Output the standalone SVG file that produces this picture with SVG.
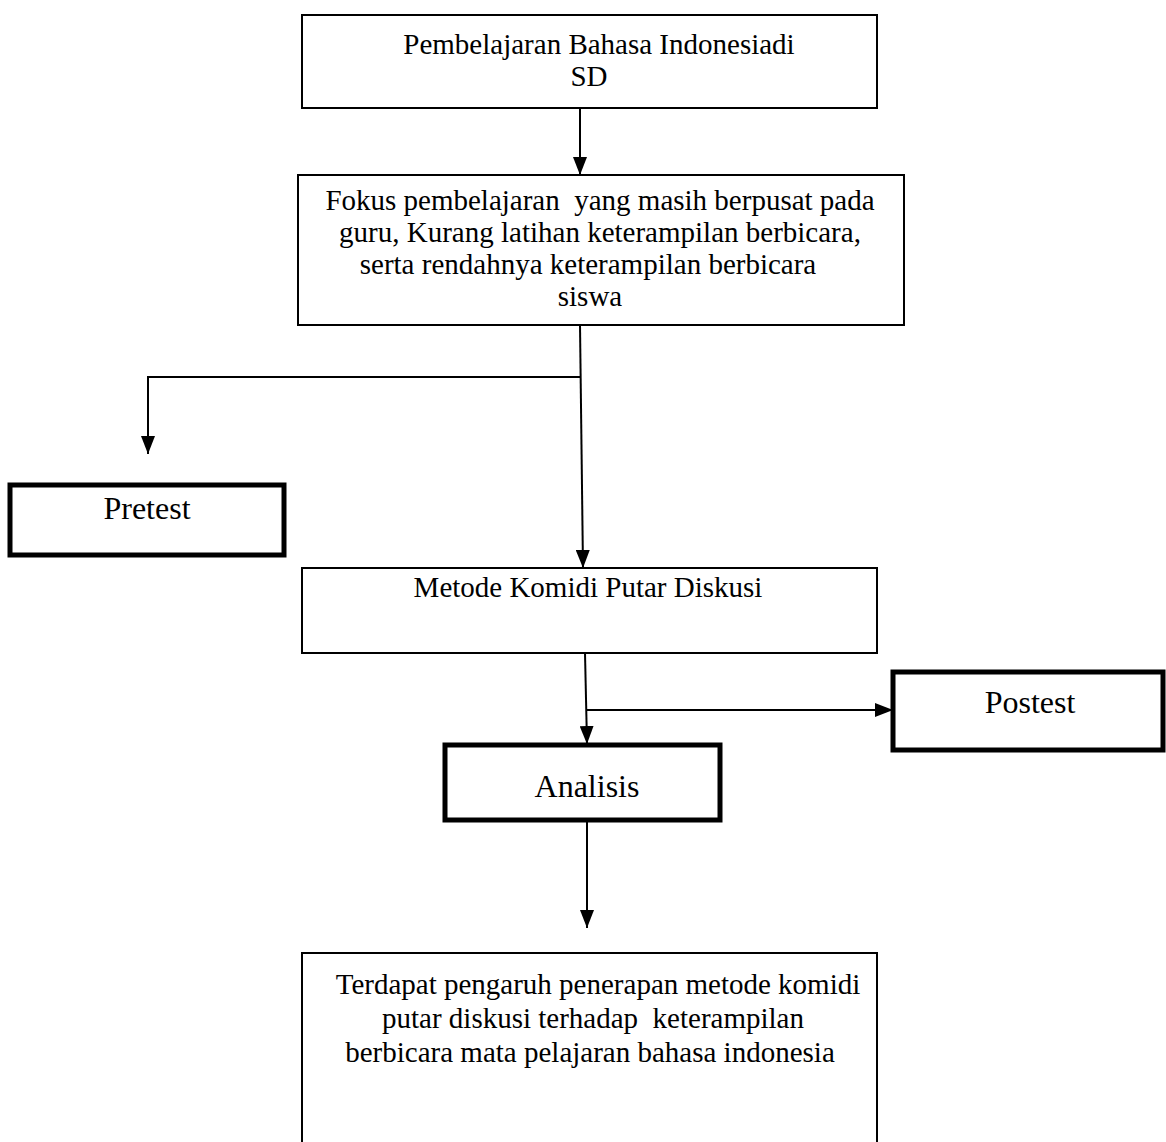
<svg xmlns="http://www.w3.org/2000/svg" width="1166" height="1142" viewBox="0 0 1166 1142">
<style>
.box{fill:#fff;stroke:#000;stroke-width:2}
.thick{fill:#fff;stroke:#000;stroke-width:5}
.t{font-family:"Liberation Serif","Times New Roman",serif;font-size:29px;fill:#000;text-anchor:middle}
.big{font-size:32px}
.c{fill:none;stroke:#000;stroke-width:2}
</style>
<defs>
<marker id="ah" markerWidth="18" markerHeight="14" refX="18" refY="7" orient="auto" markerUnits="userSpaceOnUse" viewBox="0 0 18 14">
<path d="M0,0 L18,7 L0,14 Z" fill="#000"/>
</marker>
</defs>
<rect width="1166" height="1142" fill="#fff"/>
<g id="connectors">
<line class="c" x1="580" y1="108" x2="580" y2="175" marker-end="url(#ah)"/>
<line class="c" x1="580" y1="325" x2="583" y2="568" marker-end="url(#ah)"/>
<polyline class="c" points="581,377 148,377 148,454" marker-end="url(#ah)"/>
<line class="c" x1="585" y1="653" x2="587" y2="744" marker-end="url(#ah)"/>
<line class="c" x1="586" y1="710" x2="893" y2="710" marker-end="url(#ah)"/>
<line class="c" x1="587" y1="820" x2="587" y2="928" marker-end="url(#ah)"/>
</g>
<g id="node-top">
<rect class="box" x="302" y="15" width="575" height="93"/>
<text class="t" x="599" y="54">Pembelajaran Bahasa Indonesiadi</text>
<text class="t" x="589" y="86">SD</text>
</g>
<g id="node-fokus">
<rect class="box" x="298" y="175" width="606" height="150"/>
<text class="t" x="600" y="210" xml:space="preserve">Fokus pembelajaran  yang masih berpusat pada</text>
<text class="t" x="600" y="242">guru, Kurang latihan keterampilan berbicara,</text>
<text class="t" x="588" y="274">serta rendahnya keterampilan berbicara</text>
<text class="t" x="590" y="306">siswa</text>
</g>
<g id="node-pretest">
<rect class="thick" x="10" y="485" width="274" height="70"/>
<text class="t big" x="147" y="519">Pretest</text>
</g>
<g id="node-metode">
<rect class="box" x="302" y="568" width="575" height="85"/>
<text class="t" x="588" y="597">Metode Komidi Putar Diskusi</text>
</g>
<g id="node-postest">
<rect class="thick" x="893" y="672" width="270" height="78"/>
<text class="t big" x="1030" y="713">Postest</text>
</g>
<g id="node-analisis">
<rect class="thick" x="445" y="745" width="275" height="75"/>
<text class="t big" x="587" y="797">Analisis</text>
</g>
<g id="node-hasil">
<rect class="box" x="302" y="953" width="575" height="200"/>
<text class="t" x="598" y="994">Terdapat pengaruh penerapan metode komidi</text>
<text class="t" x="593" y="1028" xml:space="preserve">putar diskusi terhadap  keterampilan</text>
<text class="t" x="590" y="1062">berbicara mata pelajaran bahasa indonesia</text>
</g>
</svg>
